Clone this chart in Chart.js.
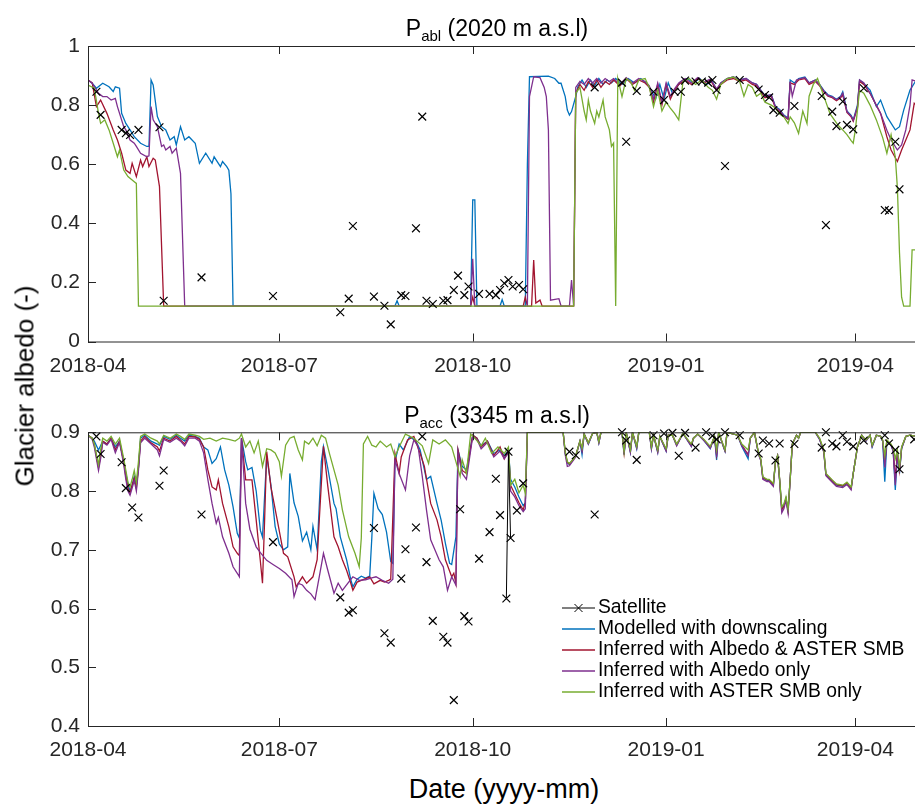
<!DOCTYPE html>
<html>
<head>
<meta charset="utf-8">
<script src="https://cdn.jsdelivr.net/npm/chart.js@4.4.1/dist/chart.umd.min.js"></script>
<style>
body { margin: 0; background: #fff; width: 915px; height: 810px; overflow: hidden; position: relative;
       font-family: "Liberation Sans", Arial, sans-serif; color: #000; }
canvas { position: absolute; left: 0; }
#cTop { top: 0; }
#cBot { top: 386px; }
.ttl { position: absolute; left: 297px; width: 400px; text-align: center; font-size: 23px; line-height: 26px; white-space: nowrap; }
.ttl span { font-size: 15px; position: relative; top: 5px; }
#ylab { position: absolute; left: 25px; top: 386px; transform: translate(-50%, -50%) rotate(-90deg); font-size: 26px; white-space: nowrap; }
#xlab { position: absolute; left: 304px; width: 400px; top: 774px; text-align: center; font-size: 27px; line-height: 30px; }
</style>
</head>
<body>
<canvas id="cTop" width="1000" height="382"></canvas>
<canvas id="cBot" width="1000" height="380"></canvas>
<div class="ttl" style="top:15px">P<span>abl</span> (2020 m a.s.l)</div>
<div class="ttl" style="top:402px">P<span>acc</span> (3345 m a.s.l)</div>
<div id="ylab">Glacier albedo (-)</div>
<div id="xlab">Date (yyyy-mm)</div>
<script>
// x values are days since 2018-04-01
const tickDays = [0, 91, 183, 275, 365];
const tickLabels = ['2018-04', '2018-07', '2018-10', '2019-01', '2019-04'];
const topYTicks = [0, 0.2, 0.4, 0.6, 0.8, 1];
const botYTicks = [0.4, 0.5, 0.6, 0.7, 0.8, 0.9];
const seriesNames = ['Satellite', 'Modelled with downscaling', 'Inferred with Albedo & ASTER SMB',
                     'Inferred with Albedo only', 'Inferred with ASTER SMB only'];

// ---- P_abl (2020 m) ----
const topSat = [[4,.845],[6,.767],[16,.716],[18,.705],[20,.699],[24,.716],[34,.725],[36,.138],[54,.217],[88,.154],
  [120,.099],[124,.145],[126,.391],[136,.152],[141,.121],[144,.058],[149,.157],[151,.154],[156,.383],[159,.761],
  [161,.138],[164,.127],[169,.138],[171,.14],[174,.174],[176,.223],[179,.157],[181,.186],[186,.161],[191,.161],
  [194,.157],[196,.174],[198,.197],[200,.208],[202,.186],[205,.191],[207,.177],[241,.86],[254,.876],[256,.676],
  [261,.848],[269,.845],[274,.817],[279,.845],[282,.845],[284,.883],[289,.88],[292,.88],[295,.876],[297,.885],
  [299,.851],[303,.594],[310,.885],[319,.853],[322,.834],[324,.826],[326,.783],[329,.774],[336,.797],[349,.831],
  [351,.394],[354,.778],[356,.729],[359,.812],[361,.733],[364,.718],[369,.857],[379,.445],[381,.443],[384,.676],[386,.515]];

const topBlue = [[0,.885],[2,.874],[4,.857],[7,.874],[10,.862],[12,.846],[13,.862],[15,.857],[16,.772],[18,.738],
  [20,.716],[22,.693],[25,.671],[28,.66],[29,.66],[30,.885],[31,.868],[33,.761],[35,.727],[37,.716],[39,.682],
  [41,.693],[42,.665],[44,.727],[46,.682],[48,.693],[51,.671],[53,.603],[56,.637],[59,.603],[60,.625],[63,.592],
  [64,.609],[66,.592],[67,.58],[68,.5],[69,.12],[146,.12],[147,.138],[148,.12],[182,.12],[183,.479],[184,.479],
  [185,.12],[196,.12],[197,.142],[198,.12],[208,.12],[209,.6],[210,.896],[219,.898],[222,.89],[224,.874],[225,.874],
  [227,.829],[228,.783],[229,.766],[230,.778],[232,.829],[233,.862],[235,.885],[237,.86],[239,.885],[241,.865],
  [243,.89],[245,.87],[247,.885],[249,.875],[251,.89],[254,.87],[257,.89],[260,.875],[263,.89],[266,.87],[268,.85],
  [270,.82],[272,.87],[274,.82],[276,.875],[278,.84],[280,.86],[282,.88],[285,.89],[288,.875],[291,.89],[294,.87],
  [297,.88],[299,.85],[301,.875],[304,.89],[307,.895],[310,.885],[313,.89],[316,.875],[318,.87],[320,.851],[322,.83],
  [325,.835],[327,.795],[329,.785],[331,.766],[333,.756],[334,.885],[336,.875],[338,.89],[341,.895],[343,.875],
  [346,.885],[348,.87],[350,.85],[352,.835],[354,.83],[356,.82],[358,.83],[359,.845],[361,.78],[363,.765],[364,.75],
  [366,.8],[367,.885],[369,.873],[372,.851],[375,.795],[377,.817],[380,.761],[384,.716],[386,.727],[388,.783],
  [391,.851],[394,.885]];

const topRed = [[0,.885],[2,.875],[4,.795],[6,.817],[9,.772],[12,.716],[14,.682],[16,.637],[18,.58],[20,.569],
  [21,.603],[23,.558],[25,.614],[26,.592],[28,.625],[29,.592],[31,.62],[32,.614],[34,.524],[36,.12],[182,.12],
  [183,.15],[184,.12],[207,.12],[208,.15],[209,.12],[211,.12],[212,.276],[213,.13],[215,.14],[216,.12],[231,.12],
  [232,.84],[234,.87],[236,.85],[238,.88],[240,.86],[242,.885],[244,.86],[246,.88],[248,.87],[250,.885],[253,.865],
  [256,.89],[259,.87],[262,.885],[265,.875],[267,.86],[269,.81],[271,.87],[273,.8],[275,.87],[277,.82],[279,.85],
  [281,.87],[284,.885],[287,.87],[290,.89],[293,.875],[296,.885],[299,.85],[301,.87],[304,.885],[307,.89],[310,.88],
  [313,.885],[316,.87],[318,.865],[320,.845],[322,.825],[325,.83],[327,.79],[329,.78],[331,.762],[333,.752],
  [334,.875],[336,.87],[338,.885],[341,.89],[343,.87],[346,.88],[348,.865],[350,.845],[352,.83],[354,.825],
  [356,.815],[358,.825],[359,.835],[361,.775],[363,.76],[364,.745],[366,.79],[367,.88],[369,.87],[372,.84],
  [377,.772],[380,.693],[382,.648],[385,.609],[387,.648],[389,.682],[391,.716],[393,.806],[394,.80]];

const topPurple = [[0,.885],[2,.874],[5,.84],[7,.829],[9,.829],[11,.817],[13,.823],[14,.795],[17,.727],[18,.716],
  [20,.682],[22,.671],[23,.66],[25,.637],[28,.625],[29,.628],[30,.795],[31,.75],[33,.727],[35,.66],[36,.665],
  [37,.648],[39,.66],[40,.637],[42,.654],[44,.569],[46,.12],[182,.12],[183,.28],[184,.12],[209,.12],[210,.829],
  [212,.896],[215,.893],[217,.86],[218,.829],[219,.716],[220,.14],[224,.145],[225,.12],[229,.12],[230,.208],
  [231,.12],[232,.86],[234,.88],[236,.87],[238,.89],[240,.875],[242,.89],[244,.875],[246,.89],[248,.88],[250,.89],
  [253,.87],[256,.893],[259,.875],[262,.89],[265,.88],[267,.865],[269,.82],[271,.875],[273,.81],[275,.875],
  [277,.83],[279,.855],[281,.875],[284,.89],[287,.875],[290,.893],[293,.878],[296,.888],[299,.855],[301,.875],
  [304,.89],[307,.895],[310,.885],[313,.89],[316,.875],[318,.87],[320,.85],[322,.83],[325,.835],[327,.793],
  [329,.783],[331,.764],[333,.754],[334,.88],[335,.83],[337,.885],[339,.89],[341,.893],[343,.875],[346,.885],
  [348,.868],[350,.848],[352,.832],[354,.828],[356,.818],[358,.828],[359,.84],[361,.778],[363,.763],[364,.748],
  [366,.795],[367,.885],[369,.876],[372,.84],[377,.772],[380,.715],[382,.682],[385,.648],[387,.665],[389,.716],
  [391,.8],[392,.885],[394,.88]];

const topGreen = [[0,.868],[3,.857],[5,.772],[6,.738],[8,.75],[10,.716],[12,.671],[14,.625],[15,.648],[17,.58],
  [19,.558],[22,.541],[23,.535],[24,.12],[231,.12],[232,.84],[234,.86],[236,.78],[237,.75],[238,.817],[239,.78],
  [241,.738],[242,.78],[243,.76],[245,.817],[246,.76],[248,.716],[249,.66],[250,.671],[251,.12],[252,.89],
  [254,.829],[256,.89],[258,.88],[260,.85],[262,.885],[265,.89],[267,.86],[269,.795],[271,.85],[273,.78],[275,.81],
  [277,.79],[279,.772],[281,.75],[283,.88],[286,.89],[289,.87],[292,.885],[295,.86],[297,.85],[299,.82],[301,.87],
  [304,.89],[307,.895],[310,.88],[312,.83],[314,.87],[316,.86],[318,.83],[320,.84],[322,.81],[325,.8],[327,.79],
  [329,.77],[331,.76],[333,.738],[334,.76],[336,.74],[338,.704],[340,.78],[342,.738],[343,.83],[345,.87],[347,.89],
  [349,.85],[351,.81],[353,.77],[355,.75],[357,.73],[359,.716],[361,.7],[363,.68],[364,.671],[365,.716],[367,.85],
  [369,.84],[372,.8],[375,.75],[378,.69],[380,.637],[382,.70],[384,.625],[385,.52],[386,.3],[387,.15],[388,.12],
  [391,.12],[392,.31],[394,.31]];

// ---- P_acc (3345 m) ----
const botSat = [[4,.893],[6,.863],[16,.849],[18,.805],[21,.772],[24,.755],[34,.809],[36,.835],[54,.76],[88,.713],
  [120,.619],[124,.593],[126,.597],[136,.737],[141,.558],[144,.542],[149,.651],[151,.701],[156,.738],[159,.893],
  [161,.679],[164,.579],[169,.552],[171,.542],[174,.444],[177,.769],[179,.587],[181,.578],[186,.685],[191,.73],
  [194,.821],[196,.759],[199,.617],[200,.867],[201,.72],[204,.767],[207,.813],[229,.867],[232,.861],[241,.76],
  [254,.9],[256,.886],[261,.853],[269,.895],[274,.898],[278,.899],[281,.86],[284,.899],[289,.874],[294,.9],
  [297,.894],[299,.888],[303,.9],[310,.895],[319,.864],[321,.886],[324,.881],[327,.852],[329,.881],[336,.88],
  [349,.874],[351,.9],[354,.881],[356,.876],[359,.895],[361,.884],[364,.876],[369,.886],[379,.895],[381,.881],
  [384,.87],[386,.837],[393,.888]];

const botBlue = [[0,.895],[2,.89],[3,.885],[5,.87],[7,.885],[9,.88],[11,.89],[13,.875],[15,.885],[17,.85],[18,.83],
  [19,.812],[20,.80],[21,.81],[22,.825],[23,.81],[24,.84],[25,.89],[27,.895],[30,.885],[33,.88],[34,.878],[36,.893],
  [39,.888],[42,.895],[44,.89],[46,.885],[48,.895],[51,.893],[53,.89],[55,.875],[57,.87],[59,.847],[61,.855],
  [63,.875],[65,.836],[67,.81],[69,.773],[71,.728],[72,.72],[73,.89],[75,.85],[76,.836],[78,.84],[80,.8],[82,.733],
  [83,.722],[85,.86],[87,.81],[89,.74],[91,.71],[93,.70],[95,.705],[96,.83],[98,.78],[100,.757],[102,.715],
  [104,.73],[106,.70],[107,.74],[109,.70],[111,.85],[112,.876],[114,.84],[117,.779],[118,.77],[120,.722],[123,.683],
  [125,.649],[126,.637],[128,.65],[130,.655],[132,.652],[134,.655],[135,.72],[136,.796],[138,.77],[140,.76],
  [142,.73],[144,.68],[145,.677],[146,.85],[148,.88],[150,.87],[153,.893],[156,.885],[158,.87],[159,.853],
  [161,.82],[163,.825],[166,.779],[168,.75],[170,.711],[172,.677],[173,.675],[175,.722],[176,.87],[178,.842],
  [180,.836],[183,.895],[185,.89],[187,.877],[190,.885],[193,.864],[196,.87],[198,.86],[200,.87],[201,.82],
  [203,.807],[205,.79],[207,.775],[208,.78],[209,.9],[226,.9],[227,.864],[228,.848],[229,.845],[231,.855],
  [232,.86],[234,.885],[235,.862],[236,.897],[238,.88],[240,.898],[242,.9],[243,.882],[244,.9],[254,.9],[255,.862],
  [256,.9],[258,.866],[259,.9],[261,.872],[262,.9],[267,.9],[268,.872],[269,.895],[271,.866],[272,.893],[275,.868],
  [276,.895],[278,.895],[280,.878],[283,.898],[287,.876],[288,.89],[290,.897],[293,.886],[296,.872],[298,.893],
  [299,.853],[300,.9],[302,.878],[303,.868],[304,.9],[309,.895],[311,.876],[314,.855],[315,.89],[317,.9],[319,.862],
  [320,.853],[321,.822],[323,.818],[324,.818],[326,.81],[327,.85],[328,.86],[329,.818],[330,.77],[331,.775],
  [332,.787],[333,.767],[334,.82],[335,.88],[337,.895],[338,.89],[339,.9],[346,.9],[348,.888],[350,.867],[351,.828],
  [354,.817],[356,.81],[359,.808],[361,.813],[363,.805],[364,.83],[366,.875],[368,.895],[370,.885],[372,.895],
  [373,.875],[375,.895],[377,.893],[378,.885],[379,.816],[380,.885],[382,.878],[383,.868],[384,.802],[385,.862],
  [386,.83],[387,.872],[389,.893],[391,.895],[394,.893]];

const botRed = [[0,.895],[2,.89],[3,.88],[5,.84],[6,.86],[7,.885],[9,.88],[11,.89],[13,.87],[15,.885],[17,.85],
  [18,.825],[19,.805],[20,.797],[21,.81],[22,.822],[23,.805],[24,.84],[25,.885],[27,.893],[30,.882],[33,.875],
  [34,.868],[36,.89],[39,.885],[42,.893],[44,.887],[46,.88],[48,.893],[51,.892],[53,.888],[55,.875],[57,.836],
  [59,.807],[61,.802],[62,.819],[64,.779],[67,.739],[69,.705],[71,.694],[72,.69],[73,.89],[75,.819],[78,.819],
  [80,.751],[82,.68],[83,.643],[84,.75],[85,.867],[87,.807],[90,.751],[93,.694],[95,.688],[98,.654],[99,.637],
  [102,.654],[104,.643],[107,.654],[109,.683],[110,.75],[112,.876],[114,.81],[117,.722],[119,.705],[121,.683],
  [123,.665],[125,.643],[126,.631],[128,.645],[130,.648],[132,.651],[134,.654],[136,.642],[139,.648],[141,.645],
  [143,.648],[144,.65],[146,.864],[148,.83],[149,.858],[152,.887],[155,.893],[158,.864],[160,.842],[163,.779],
  [166,.751],[168,.722],[170,.683],[173,.654],[174,.66],[175,.643],[176,.87],[178,.835],[180,.83],[183,.895],
  [185,.89],[187,.875],[190,.885],[193,.86],[196,.875],[198,.855],[200,.87],[201,.81],[203,.795],[205,.78],
  [207,.768],[208,.78],[209,.9],[226,.9],[227,.866],[228,.849],[229,.846],[231,.855],[232,.86],[234,.885],
  [235,.87],[236,.897],[238,.882],[240,.898],[242,.9],[243,.884],[244,.9],[254,.9],[255,.865],[256,.9],[258,.868],
  [259,.9],[261,.875],[262,.9],[267,.9],[268,.874],[269,.895],[271,.868],[272,.893],[275,.87],[276,.895],[278,.895],
  [280,.879],[283,.898],[287,.878],[288,.89],[290,.897],[293,.887],[296,.874],[298,.893],[299,.862],[300,.9],
  [302,.879],[303,.869],[304,.9],[309,.895],[311,.878],[314,.862],[315,.89],[317,.9],[319,.863],[320,.854],
  [321,.823],[323,.819],[324,.819],[326,.811],[327,.85],[328,.86],[329,.819],[330,.768],[331,.774],[332,.787],
  [333,.766],[334,.82],[335,.88],[337,.895],[338,.89],[339,.9],[346,.9],[348,.889],[350,.868],[351,.829],
  [354,.818],[356,.811],[359,.809],[361,.814],[363,.805],[364,.83],[366,.875],[368,.895],[370,.886],[372,.895],
  [373,.877],[375,.895],[377,.893],[378,.886],[379,.85],[380,.886],[382,.879],[383,.87],[384,.82],[385,.866],
  [386,.835],[387,.874],[389,.893],[391,.895],[394,.893]];

const botPurple = [[0,.895],[2,.888],[3,.875],[5,.835],[6,.855],[7,.883],[9,.878],[11,.888],[13,.865],[15,.883],
  [17,.845],[18,.82],[19,.8],[20,.793],[21,.805],[22,.818],[23,.8],[24,.835],[25,.882],[27,.89],[30,.88],[33,.87],
  [34,.86],[36,.888],[39,.883],[42,.89],[44,.885],[46,.877],[48,.89],[51,.89],[53,.885],[55,.865],[57,.82],
  [59,.779],[61,.745],[62,.755],[64,.722],[67,.694],[69,.671],[71,.66],[72,.654],[73,.89],[74,.835],[75,.779],
  [77,.735],[80,.705],[82,.695],[85,.682],[88,.675],[91,.668],[94,.66],[97,.649],[98,.62],[100,.643],[102,.64],
  [104,.631],[106,.625],[108,.615],[110,.654],[112,.694],[114,.666],[117,.626],[119,.643],[121,.631],[124,.645],
  [126,.654],[129,.648],[132,.649],[135,.652],[137,.654],[140,.648],[143,.643],[145,.65],[146,.853],[148,.83],
  [151,.802],[153,.86],[155,.887],[157,.876],[159,.825],[161,.768],[163,.717],[165,.7],[167,.683],[169,.671],
  [171,.631],[173,.654],[175,.64],[176,.865],[178,.83],[180,.82],[183,.893],[185,.888],[187,.872],[190,.883],
  [193,.858],[196,.868],[198,.855],[200,.865],[201,.8],[203,.79],[205,.775],[207,.765],[208,.77],[209,.9],
  [226,.9],[227,.862],[228,.842],[229,.843],[231,.853],[232,.858],[234,.884],[235,.868],[236,.897],[238,.88],
  [240,.898],[242,.9],[243,.882],[244,.9],[254,.9],[255,.863],[256,.9],[258,.866],[259,.9],[261,.873],[262,.9],
  [267,.9],[268,.872],[269,.895],[271,.866],[272,.893],[275,.868],[276,.895],[278,.895],[280,.877],[283,.898],
  [287,.876],[288,.89],[290,.897],[293,.886],[296,.873],[298,.893],[299,.858],[300,.9],[302,.878],[303,.868],
  [304,.9],[309,.895],[311,.877],[314,.86],[315,.89],[317,.9],[319,.862],[320,.852],[321,.82],[323,.816],
  [324,.816],[326,.808],[327,.85],[328,.86],[329,.816],[330,.763],[331,.77],[332,.784],[333,.762],[334,.82],
  [335,.88],[337,.895],[338,.89],[339,.9],[346,.9],[348,.888],[350,.866],[351,.826],[354,.815],[356,.808],
  [359,.806],[361,.811],[363,.802],[364,.83],[366,.875],[368,.895],[370,.885],[372,.895],[373,.876],[375,.895],
  [377,.893],[378,.885],[379,.84],[380,.885],[382,.878],[383,.868],[384,.81],[385,.864],[386,.832],[387,.873],
  [389,.893],[391,.895],[394,.893]];

const botGreen = [[0,.895],[2,.89],[3,.88],[5,.845],[6,.87],[7,.89],[9,.885],[11,.893],[13,.88],[15,.89],[17,.855],
  [18,.835],[19,.815],[20,.807],[21,.82],[22,.835],[23,.815],[24,.85],[25,.893],[27,.897],[30,.89],[33,.885],
  [34,.88],[36,.895],[39,.89],[42,.897],[44,.893],[46,.888],[48,.897],[51,.895],[53,.893],[55,.888],[58,.89],
  [61,.885],[64,.89],[67,.888],[70,.885],[72,.89],[73,.897],[75,.875],[77,.885],[79,.865],[81,.885],[83,.842],
  [85,.872],[87,.87],[89,.865],[91,.85],[92,.825],[94,.878],[96,.89],[98,.893],[100,.87],[102,.853],[103,.885],
  [105,.88],[107,.89],[109,.877],[111,.895],[113,.89],[115,.862],[117,.836],[119,.81],[121,.768],[124,.722],
  [127,.694],[129,.671],[130,.72],[131,.88],[133,.893],[135,.878],[137,.875],[139,.885],[142,.875],[144,.88],
  [146,.858],[148,.875],[151,.897],[155,.89],[159,.877],[162,.847],[164,.887],[167,.88],[170,.887],[173,.875],
  [175,.85],[177,.825],[178,.853],[180,.83],[182,.897],[184,.89],[187,.877],[189,.89],[192,.864],[195,.875],
  [198,.864],[200,.875],[201,.81],[203,.82],[205,.797],[207,.81],[208,.796],[209,.9],[226,.9],[227,.867],
  [228,.85],[229,.847],[231,.855],[232,.86],[234,.885],[235,.873],[236,.897],[238,.882],[240,.898],[242,.9],
  [243,.884],[244,.9],[254,.9],[255,.867],[256,.9],[258,.87],[259,.9],[261,.876],[262,.9],[267,.9],[268,.875],
  [269,.895],[271,.87],[272,.893],[275,.872],[276,.895],[278,.895],[280,.88],[283,.898],[287,.88],[288,.89],
  [290,.897],[293,.888],[296,.876],[298,.893],[299,.87],[300,.9],[302,.88],[303,.87],[304,.9],[309,.895],
  [311,.88],[314,.87],[315,.89],[317,.9],[319,.864],[320,.855],[321,.824],[323,.82],[324,.82],[326,.813],
  [327,.85],[328,.86],[329,.82],[330,.773],[331,.778],[332,.79],[333,.77],[334,.82],[335,.88],[337,.895],
  [338,.89],[339,.9],[346,.9],[348,.89],[350,.87],[351,.83],[354,.819],[356,.812],[359,.81],[361,.815],
  [363,.807],[364,.83],[366,.875],[368,.895],[370,.887],[372,.895],[373,.878],[375,.895],[377,.893],[378,.887],
  [379,.86],[380,.887],[382,.88],[383,.873],[384,.855],[385,.87],[386,.84],[387,.875],[389,.893],[391,.895],
  [394,.893]];

const lineColors = ['#000000', '#0072BD', '#A2142F', '#7E2F8E', '#77AC30'];

Chart.defaults.font.family = '"Liberation Sans", Arial, sans-serif';

function toXY(pts) {
  return pts.map(p => ({ x: p[0], y: p[1] }));
}

function satSet(pts) {
  return {
    label: seriesNames[0],
    data: toXY(pts),
    borderColor: lineColors[0],
    borderWidth: 1,
    pointStyle: 'crossRot',
    pointRadius: 5.5,
    pointBorderWidth: 1.2,
    pointBorderColor: lineColors[0],
    clip: false,
    order: 0,
    // only consecutive days are joined by a line
    segment: {
      borderColor: c => (c.p1.parsed.x - c.p0.parsed.x > 1 ? 'rgba(0,0,0,0)' : lineColors[0])
    }
  };
}

function lineSet(i, pts) {
  return {
    label: seriesNames[i],
    data: toXY(pts),
    borderColor: lineColors[i],
    backgroundColor: lineColors[i],
    borderWidth: 1.3,
    pointRadius: 0,
    tension: 0,
    order: 5 - i
  };
}

// box round the plot with inward tick marks, like the original
const frame = {
  id: 'frame',
  afterDatasetsDraw(chart) {
    const { ctx, chartArea: a, scales } = chart;
    ctx.save();
    ctx.strokeStyle = '#262626';
    ctx.lineWidth = 1;
    ctx.strokeRect(a.left + 0.5, a.top + 0.5, a.right - a.left, a.bottom - a.top);
    ctx.beginPath();
    scales.x.ticks.forEach(t => {
      const px = Math.round(scales.x.getPixelForValue(t.value)) + 0.5;
      ctx.moveTo(px, a.bottom); ctx.lineTo(px, a.bottom - 8);
      ctx.moveTo(px, a.top); ctx.lineTo(px, a.top + 8);
    });
    scales.y.ticks.forEach(t => {
      const py = Math.round(scales.y.getPixelForValue(t.value)) + 0.5;
      ctx.moveTo(a.left, py); ctx.lineTo(a.left + 8, py);
      ctx.moveTo(a.right, py); ctx.lineTo(a.right - 8, py);
    });
    ctx.stroke();
    ctx.restore();
  }
};

const glLegend = {
  id: 'glLegend',
  afterDraw(chart, args, opts) {
    if (!opts.show) return;
    const ctx = chart.ctx;
    ctx.save();
    ctx.font = '19.3px "Liberation Sans", Arial, sans-serif';
    ctx.textBaseline = 'middle';
    ctx.fillStyle = '#000';
    chart.data.datasets.forEach((ds, i) => {
      const y = opts.y + i * opts.step;
      ctx.strokeStyle = lineColors[i];
      ctx.lineWidth = i === 0 ? 1 : 1.3;
      ctx.beginPath();
      ctx.moveTo(opts.x, y); ctx.lineTo(opts.x + 33, y);
      if (i === 0) {
        const cx = opts.x + 16.5;
        ctx.moveTo(cx - 4, y - 4); ctx.lineTo(cx + 4, y + 4);
        ctx.moveTo(cx - 4, y + 4); ctx.lineTo(cx + 4, y - 4);
      }
      ctx.stroke();
      ctx.fillText(ds.label, opts.x + 36, y);
    });
    ctx.restore();
  }
};

function makeChart(id, padTop, xHeight, yTicks, sets, legendOn) {
  return new Chart(document.getElementById(id), {
    type: 'line',
    data: { datasets: sets },
    options: {
      responsive: false,
      animation: false,
      devicePixelRatio: 1,
      events: [],
      layout: { padding: { top: padTop, right: 8, left: 0, bottom: 0 } },
      plugins: {
        legend: { display: false },
        tooltip: { enabled: false },
        glLegend: { show: legendOn, x: 562, y: 222, step: 21 }
      },
      scales: {
        x: {
          type: 'linear',
          min: 0,
          max: 430,
          grid: { display: false, drawTicks: false },
          border: { display: false },
          afterBuildTicks: s => { s.ticks = tickDays.map(v => ({ value: v })); },
          afterFit: s => { s.height = xHeight; },
          ticks: {
            padding: 12, maxRotation: 0, autoSkip: false, color: '#262626',
            font: { size: 21 },
            callback: v => tickLabels[tickDays.indexOf(v)]
          }
        },
        y: {
          min: yTicks[0],
          max: yTicks[yTicks.length - 1],
          grid: { display: false, drawTicks: false },
          border: { display: false },
          afterBuildTicks: s => { s.ticks = yTicks.map(v => ({ value: v })); },
          afterFit: s => { s.width = 88; },
          ticks: { padding: 8, color: '#262626', font: { size: 21 }, callback: v => String(v) }
        }
      }
    },
    plugins: [frame, glLegend]
  });
}

makeChart('cTop', 46, 40.5, topYTicks,
  [satSet(topSat), lineSet(1, topBlue), lineSet(2, topRed), lineSet(3, topPurple), lineSet(4, topGreen)], false);

makeChart('cBot', 46.3, 40, botYTicks,
  [satSet(botSat), lineSet(1, botBlue), lineSet(2, botRed), lineSet(3, botPurple), lineSet(4, botGreen)], true);
</script>
</body>
</html>
